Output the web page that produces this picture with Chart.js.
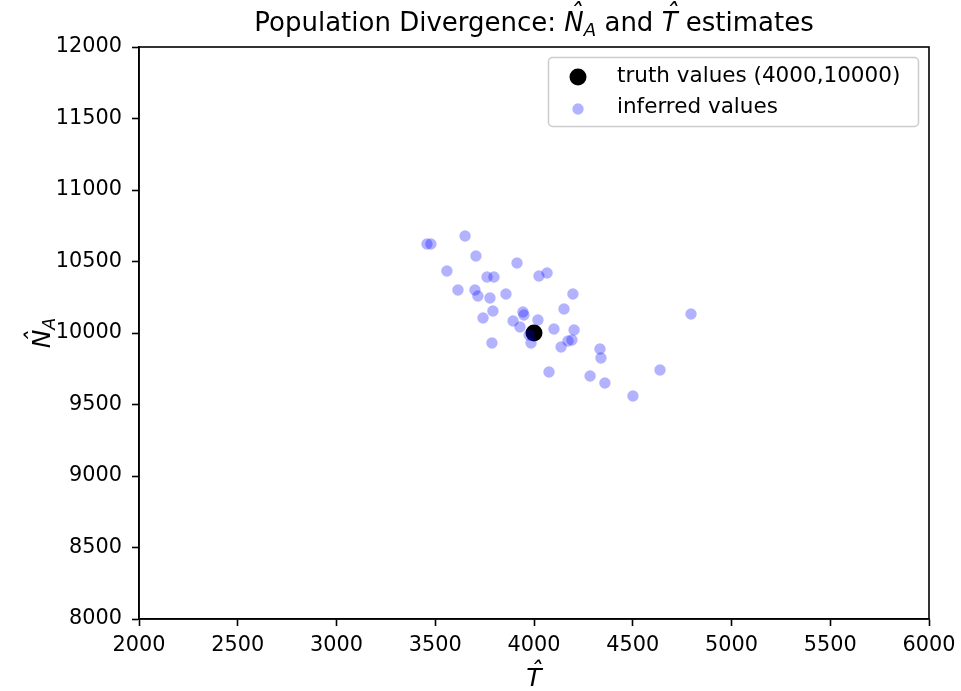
<!DOCTYPE html>
<html>
<head>
<meta charset="utf-8">
<script src="https://cdn.jsdelivr.net/npm/chart.js@4/dist/chart.umd.min.js"></script>
<style>
html,body{margin:0;padding:0;background:#ffffff;}
#wrap{width:961px;height:691px;position:relative;}
</style>
</head>
<body>
<div id="wrap"><canvas id="c" width="961" height="691"></canvas></div>
<script>
// ---- data ----
const truthT = [4000];
const truthN = [10000];
const inferredT = [3458, 3478, 3651, 3706, 3559, 3615, 3701, 3716, 3762, 3797,
                   3914, 4025, 4066, 3858, 3777, 3792, 3742, 3944, 3949, 3894,
                   3929, 4020, 4197, 4152, 4101, 4203, 3787, 3975, 3985, 4137,
                   4172, 4192, 4795, 4334, 4339, 4076, 4284, 4359, 4638, 4501];
const inferredN = [10622, 10622, 10678, 10538, 10434, 10301, 10301, 10259, 10392, 10392,
                   10490, 10399, 10420, 10273, 10245, 10154, 10105, 10147, 10126, 10084,
                   10042, 10091, 10273, 10168, 10028, 10021, 9930, 9986, 9930, 9902,
                   9944, 9951, 10133, 9888, 9825, 9727, 9699, 9650, 9741, 9559];
const xTicks = [2000, 2500, 3000, 3500, 4000, 4500, 5000, 5500, 6000];
const yTicks = [8000, 8500, 9000, 9500, 10000, 10500, 11000, 11500, 12000];
const legendLabels = ['truth values (4000,10000)', 'inferred values'];

const FONT = "'DejaVu Sans', 'Liberation Sans', sans-serif";
const BLUE = 'rgba(0,0,255,0.3)';

function toPoints(xs, ys) { return xs.map((x, i) => ({x: x, y: ys[i]})); }

// draw a run of text parts (with optional hats / subscripts)
function drawRun(ctx, parts, x, y, align) {
  let total = 0;
  parts.forEach(p => { ctx.font = p.font; p.w = ctx.measureText(p.t).width; total += p.w; });
  let cx = align === 'center' ? x - total / 2 : x;
  ctx.textBaseline = 'alphabetic';
  ctx.textAlign = 'left';
  parts.forEach(p => {
    ctx.font = p.font;
    ctx.fillText(p.t, cx, y + (p.dy || 0));
    if (p.hat) {
      ctx.textAlign = 'center';
      ctx.fillText('\u02C6', cx + p.w / 2 + p.size * 0.08, y - p.size * 0.30);
      ctx.textAlign = 'left';
    }
    cx += p.w;
  });
}

const decor = {
  id: 'decor',
  afterDraw(chart) {
    const ctx = chart.ctx;
    const a = chart.chartArea;
    ctx.save();
    // frame (all four spines)
    ctx.strokeStyle = '#000';
    ctx.lineWidth = 1.6;
    ctx.strokeRect(Math.round(a.left), Math.round(a.top), Math.round(a.right - a.left), Math.round(a.bottom - a.top));
    ctx.fillStyle = '#000';
    const mid = (a.left + a.right) / 2;
    // title
    const T = 26, S = 18.2;
    drawRun(ctx, [
      {t: 'Population Divergence: ', font: T + 'px ' + FONT, size: T},
      {t: 'N', font: 'italic ' + T + 'px ' + FONT, size: T, hat: true},
      {t: 'A', font: 'italic ' + S + 'px ' + FONT, size: S, dy: 5},
      {t: ' and ', font: T + 'px ' + FONT, size: T},
      {t: 'T', font: 'italic ' + T + 'px ' + FONT, size: T, hat: true},
      {t: ' estimates', font: T + 'px ' + FONT, size: T}
    ], mid, 31, 'center');
    // x label
    const L = 25, LS = 17.5;
    drawRun(ctx, [{t: 'T', font: 'italic ' + L + 'px ' + FONT, size: L, hat: true}], mid, 686, 'center');
    // y label (rotated)
    ctx.save();
    ctx.translate(50, (a.top + a.bottom) / 2);
    ctx.rotate(-Math.PI / 2);
    drawRun(ctx, [
      {t: 'N', font: 'italic ' + L + 'px ' + FONT, size: L, hat: true},
      {t: 'A', font: 'italic ' + LS + 'px ' + FONT, size: LS, dy: 5}
    ], 0, 0, 'center');
    ctx.restore();
    // legend box
    const bx = 548.5, by = 57.5, bw = 370, bh = 69, r = 4;
    ctx.beginPath();
    ctx.moveTo(bx + r, by);
    ctx.arcTo(bx + bw, by, bx + bw, by + bh, r);
    ctx.arcTo(bx + bw, by + bh, bx, by + bh, r);
    ctx.arcTo(bx, by + bh, bx, by, r);
    ctx.arcTo(bx, by, bx + bw, by, r);
    ctx.closePath();
    ctx.fillStyle = 'rgba(255,255,255,0.8)';
    ctx.fill();
    ctx.strokeStyle = '#cccccc';
    ctx.lineWidth = 1.5;
    ctx.stroke();
    // legend markers
    const ds = chart.data.datasets;
    ctx.beginPath();
    ctx.arc(578, 77, ds[0].pointRadius, 0, Math.PI * 2);
    ctx.fillStyle = ds[0].backgroundColor;
    ctx.fill();
    ctx.beginPath();
    ctx.arc(578, 109, ds[1].pointRadius, 0, Math.PI * 2);
    ctx.fillStyle = ds[1].backgroundColor;
    ctx.fill();
    // legend text
    ctx.fillStyle = '#000';
    ctx.font = '21.5px ' + FONT;
    ctx.textAlign = 'left';
    ctx.textBaseline = 'middle';
    ctx.fillText(legendLabels[0], 617, 76);
    ctx.fillText(legendLabels[1], 617, 107);
    ctx.restore();
  }
};

const axisCommon = {
  type: 'linear',
  ticks: {
    color: '#000',
    font: {family: FONT, size: 20.8},
    autoSkip: false,
    maxRotation: 0,
    minRotation: 0,
    callback: v => String(v)
  },
  grid: {
    drawOnChartArea: false,
    drawTicks: true,
    tickLength: 7,
    tickWidth: 1.6,
    tickColor: '#000',
    color: '#000'
  },
  border: {display: true, color: '#000', width: 1.6}
};

new Chart(document.getElementById('c'), {
  type: 'scatter',
  data: {
    datasets: [
      {
        label: legendLabels[0],
        data: toPoints(truthT, truthN),
        backgroundColor: '#000000',
        borderWidth: 0,
        pointRadius: 8.5,
        pointBorderWidth: 0,
        order: 2
      },
      {
        label: legendLabels[1],
        data: toPoints(inferredT, inferredN),
        backgroundColor: BLUE,
        borderWidth: 0,
        pointRadius: 5.7,
        pointBorderWidth: 0,
        order: 1
      }
    ]
  },
  options: {
    responsive: false,
    animation: false,
    devicePixelRatio: 1,
    events: [],
    layout: {padding: {top: 47, right: 32, bottom: 0, left: 0}},
    plugins: {legend: {display: false}, title: {display: false}, tooltip: {enabled: false}},
    scales: {
      x: Object.assign({}, axisCommon, {
        position: 'bottom',
        min: xTicks[0],
        max: xTicks[xTicks.length - 1],
        ticks: Object.assign({}, axisCommon.ticks, {padding: 7}),
        afterBuildTicks: s => { s.ticks = xTicks.map(v => ({value: v})); },
        afterFit: s => { s.height = 72; s.paddingLeft = 0; s.paddingRight = 0; }
      }),
      y: Object.assign({}, axisCommon, {
        position: 'left',
        min: yTicks[0],
        max: yTicks[yTicks.length - 1],
        ticks: Object.assign({}, axisCommon.ticks, {padding: 10}),
        afterBuildTicks: s => { s.ticks = yTicks.map(v => ({value: v})); },
        afterFit: s => { s.width = 139; s.paddingTop = 0; s.paddingBottom = 0; }
      })
    }
  },
  plugins: [decor]
});
</script>
</body>
</html>
